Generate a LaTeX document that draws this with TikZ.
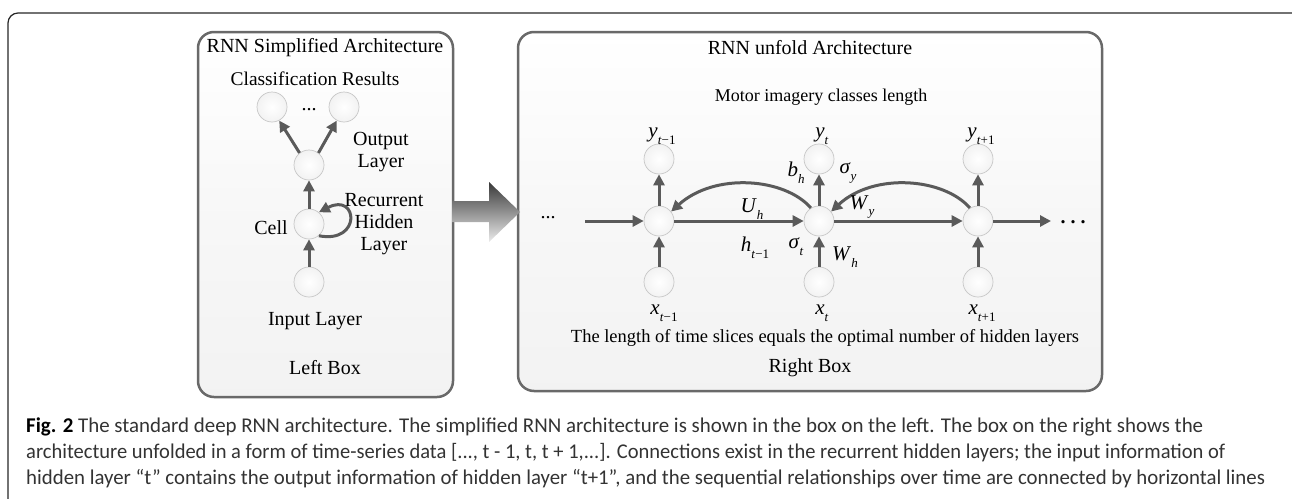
\documentclass[tikz,border=0pt]{standalone}
\usepackage{fontspec}
\usepackage{graphicx}
\setmainfont{Liberation Serif}
\newfontfamily\capfont{Carlito}
\usetikzlibrary{arrows.meta}
\definecolor{arrgray}{RGB}{90,90,90}
\definecolor{boxgray}{RGB}{105,105,105}
\newcommand\fsz[1]{\fontsize{#1}{#1}\selectfont}
\newcommand\fszl[2]{\fontsize{#1}{#2}\selectfont}
\newcommand\vsub[2]{\textit{#1}\raisebox{-0.32em}{\fontsize{13}{13}\selectfont #2}}
\begin{document}
\begin{tikzpicture}[x=1pt,y=-1pt,
  neuron/.style={circle,minimum size=30pt,inner sep=0pt,draw=black!22,line width=0.7pt,inner color=white,outer color=black!5},
  arr/.style={draw=arrgray,line width=3pt,-{Triangle[length=11pt,width=11pt]}},
  box/.style={draw=boxgray,line width=2.5pt,rounded corners=16pt,top color=white,bottom color=black!5,middle color=black!3},
  lbl/.style={font=\fsz{20},inner sep=0pt},
  mlbl/.style={font=\fsz{21},inner sep=0pt},
  capline/.style={anchor=base west,inner sep=0pt,font=\capfont\fsz{21},text=black!80},
]
\useasboundingbox (0,0) rectangle (1292,498);
\begin{scope}
\clip (0,0) rectangle (1292,498);
\draw[line width=1.2pt,black!85,rounded corners=10pt] (8,560) rectangle (1302,13);
\end{scope}

% boxes
\path[box] (198,32) rectangle (453,397);
\path[box] (518,32) rectangle (1102,391);

% big arrow
\shade[top color=black!78,bottom color=black!8,shading angle=0]
  (452,201) -- (489,201) -- (489,182) -- (520,212) -- (489,242) -- (489,222) -- (452,222) -- cycle;

% ---------- left box ----------
\node[lbl] (t1) at (325,48) {RNN Simplified Architecture};
\node[lbl,font=\fsz{19.4}] (cr) at (315,79) {Classification Results};
\node[neuron] (o1) at (272,107) {};
\node[neuron] (o2) at (344,107) {};
\node[lbl] (dots1) at (309,110) {...};
\node[neuron] (out) at (309,165) {};
\node[lbl,align=center,font=\fszl{20}{22}] (ol) at (381,152) {Output\\Layer};
\node[neuron] (cell) at (309,224) {};
\node[lbl] (celll) at (271,228) {Cell};
\node[lbl,align=center,font=\fszl{20}{22}] (rhl) at (384,224) {Recurrent\\Hidden\\Layer};
\node[neuron] (inp) at (309,282) {};
\node[lbl] (il) at (315,321) {Input Layer};
\node[lbl] (lb) at (325,368) {Left Box};

\draw[arr] (out.128) -- (o1.-62);
\draw[arr] (out.52) -- (o2.-118);
\draw[arr] (cell.north) -- (out.south);
\draw[arr] (inp.north) -- (cell.south);
\draw[arr] (cell.-50) .. controls (362,244) and (358,192) .. (cell.50);

% ---------- right box ----------
\node[lbl] (t2) at (810,48) {RNN unfold Architecture};
\node[lbl,font=\fsz{18}] (mic) at (821,97) {Motor imagery classes length};

\node[neuron] (h1) at (659,221) {};
\node[neuron] (h2) at (819,221) {};
\node[neuron] (h3) at (978,221) {};
\node[neuron] (y1) at (659,159) {};
\node[neuron] (y2) at (819,159) {};
\node[neuron] (y3) at (978,159) {};
\node[neuron] (x1) at (659,282) {};
\node[neuron] (x2) at (819,282) {};
\node[neuron] (x3) at (978,282) {};

\node[mlbl] (ly1) at (662,136) {\vsub{y}{\textit{t}−1}};
\node[mlbl] (ly2) at (822,136) {\vsub{y}{\textit{t}}};
\node[mlbl] (ly3) at (981,136) {\vsub{y}{\textit{t}+1}};
\node[mlbl] (lx1) at (664,313) {\vsub{x}{\textit{t}−1}};
\node[mlbl] (lx2) at (822,313) {\vsub{x}{\textit{t}}};
\node[mlbl] (lx3) at (982,313) {\vsub{x}{\textit{t}+1}};

\node[lbl] (ldots) at (548,218) {...};
\coordinate (s0) at (585,221);
\coordinate (e0) at (1051,221);
\node[inner sep=0pt,font=\fsz{20}\bfseries] (rdots) at (1073,222) {.\hspace{5pt}.\hspace{5pt}.};

\draw[arr] (s0) -- (h1);
\draw[arr] (h1) -- (h2);
\draw[arr] (h2) -- (h3);
\draw[arr] (h3) -- (e0);
\foreach \i in {1,2,3}{
  \draw[arr] (x\i.north) -- (h\i.south);
  \draw[arr] (h\i.north) -- (y\i.south);
}
\draw[arr] (h2.122) .. controls (785,178) and (715,172) .. (h1.38);
\draw[arr] (h3.122) .. controls (944,178) and (874,172) .. (h2.38);

\node[mlbl] (uh) at (752,209) {\vsub{U}{\textit{h}}};
\node[mlbl] (ht) at (755,248) {\vsub{h}{\textit{t}−1}};
\node[mlbl] (bh) at (796,173) {\vsub{b}{\textit{h}}};
\node[mlbl] (sy) at (848,173) {\vsub{σ}{\textit{y}}};
\node[mlbl] (st) at (796,247) {\vsub{σ}{\textit{t}}};
\node[mlbl] (wh) at (845,257) {\vsub{W}{\textit{h}}};
\node[mlbl] (wy) at (862,207) {\vsub{W}{\textit{y}}};

\node[lbl,font=\fsz{18.5}] (tl) at (825,338) {The length of time slices equals the optimal number of hidden layers};
\node[lbl] (rb) at (810,368) {Right Box};

% ---------- caption ----------
\node[capline] (c1) at (26,432) {\resizebox{1177pt}{\height}{\textcolor{black}{\textbf{Fig. 2}} The standard deep RNN architecture. The simplified RNN architecture is shown in the box on the left. The box on the right shows the}};
\node[capline] (c2) at (26,458) {\resizebox{1199pt}{\height}{architecture unfolded in a form of time-series data [..., t - 1, t, t + 1,...]. Connections exist in the recurrent hidden layers; the input information of}};
\node[capline] (c3) at (26,484) {\resizebox{1239pt}{\height}{hidden layer “t” contains the output information of hidden layer “t+1”, and the sequential relationships over time are connected by horizontal lines}};
\end{tikzpicture}
\end{document}
